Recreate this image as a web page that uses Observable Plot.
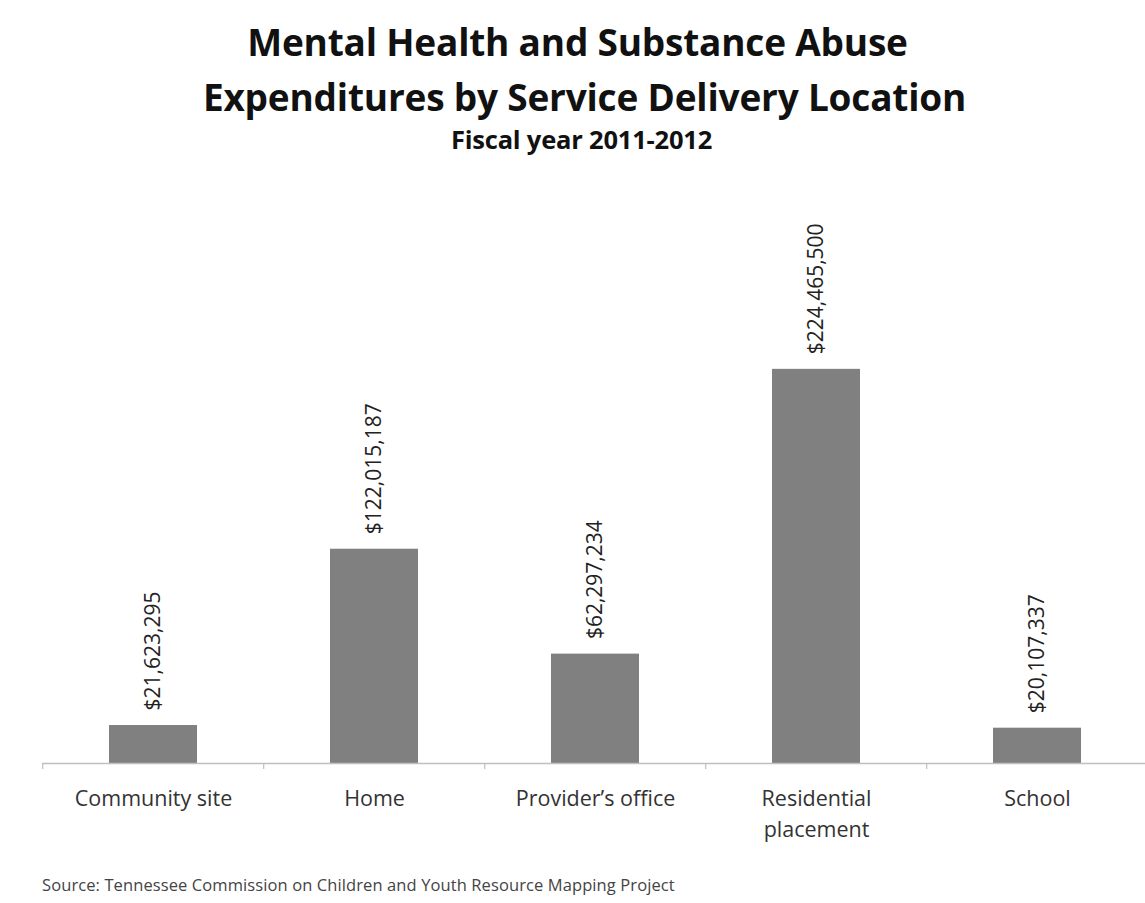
<!DOCTYPE html>
<html>
<head>
<meta charset="utf-8">
<script src="https://cdn.jsdelivr.net/npm/d3@7"></script>
<script src="https://cdn.jsdelivr.net/npm/@observablehq/plot@0.6"></script>
<style>
  html, body { margin: 0; padding: 0; background: #fff; }
  body { width: 1145px; height: 903px; position: relative; overflow: hidden; font-family: "Open Sans", sans-serif; }
  .t { position: absolute; left: 0; width: 1145px; text-align: center; color: #111; font-weight: 700; white-space: nowrap; }
  #t1 { top: 18px; font-size: 37px; line-height: 48px; letter-spacing: -0.2px; padding-left: 10px; box-sizing: border-box; }
  #t2 { top: 73px; font-size: 37px; line-height: 48px; letter-spacing: -0.2px; padding-left: 24px; box-sizing: border-box; }
  #t3 { top: 123px; font-size: 25.5px; line-height: 32px; letter-spacing: -0.2px; padding-left: 18px; box-sizing: border-box; }
  #chart { position: absolute; top: 170px; left: 0; }
  #src { position: absolute; top: 874px; left: 42px; font-size: 16.5px; line-height: 22px; color: #444; letter-spacing: 0.1px; white-space: nowrap; }
</style>
</head>
<body>
<div class="t" id="t1">Mental Health and Substance Abuse</div>
<div class="t" id="t2">Expenditures by Service Delivery Location</div>
<div class="t" id="t3">Fiscal year 2011-2012</div>
<div id="chart"></div>
<div id="src">Source: Tennessee Commission on Children and Youth Resource Mapping Project</div>
<script>
const categories = ["Community site", "Home", "Provider's office", "Residential placement", "School"];
const tickLabels = ["Community site", "Home", "Provider\u2019s office", "Residential\nplacement", "School"];
const expenditures = [21623295, 122015187, 62297234, 224465500, 20107337];

const data = categories.map((c, i) => ({category: c, value: expenditures[i]}));
const labelOf = new Map(categories.map((c, i) => [c, tickLabels[i]]));
const money = d3.format(",");

const PADI = 0.6;
function boundaryTicks(index, scales) {
  const x = scales.x, y = scales.y;
  const step = x(categories[1]) - x(categories[0]);
  const bw = step * (1 - PADI);
  const y0 = y(0);
  const g = d3.create("svg:g").attr("stroke", "#bfbfbf").attr("stroke-width", 1.2);
  categories.forEach(c => {
    const px = x(c) + bw / 2 - step / 2;
    g.append("line").attr("x1", px).attr("x2", px).attr("y1", y0).attr("y2", y0 + 6);
  });
  return g.node();
}

const chart = Plot.plot({
  width: 1145,
  height: 680,
  marginLeft: 42,
  marginRight: 0,
  marginTop: 154,
  marginBottom: 87,
  style: {fontFamily: "Open Sans, sans-serif", background: "transparent"},
  x: {type: "band", domain: categories, paddingInner: PADI, paddingOuter: PADI / 2, range: [42, 1149]},
  y: {domain: [0, 250e6], axis: null},
  marks: [
    Plot.barY(data, {x: "category", y: "value", fill: "#808080"}),
    Plot.ruleY([0], {stroke: "#bfbfbf", strokeWidth: 1.5}),
    boundaryTicks,
    Plot.axisX({tickSize: 0, tickPadding: 20, fontSize: 21.5, lineHeight: 1.45, fill: "#333", label: null,
                tickFormat: d => labelOf.get(d)}),
    Plot.text(data, {x: "category", y: "value", text: d => "$" + money(d.value), rotate: -90,
                     textAnchor: "start", lineAnchor: "middle", dy: -15, fontSize: 21, fill: "#222"})
  ]
});
document.getElementById("chart").appendChild(chart);
</script>
</body>
</html>
